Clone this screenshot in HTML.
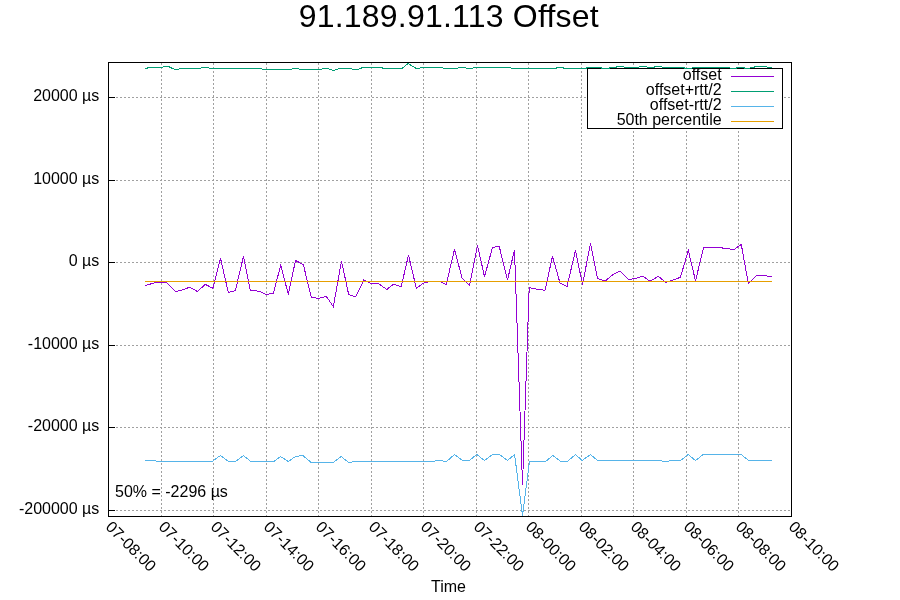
<!DOCTYPE html>
<html><head><meta charset="utf-8"><title>91.189.91.113 Offset</title>
<style>
html,body{margin:0;padding:0;background:#fff;}
body{width:900px;height:600px;overflow:hidden;}
svg{display:block;}
text{font-family:"Liberation Sans",sans-serif;fill:#000;}
.t{font-size:16px;}
.g{stroke:#a0a0a0;stroke-width:1;stroke-dasharray:2 2;fill:none;}
.k{stroke:#000;stroke-width:1;fill:none;}
.d{fill:none;stroke-width:1;stroke-linejoin:miter;stroke-linecap:butt;shape-rendering:crispEdges;}
</style></head><body>
<svg width="900" height="600" viewBox="0 0 900 600">
<rect width="900" height="600" fill="#fff"/>
<text x="298.7" y="26.7" style="font-size:32px;letter-spacing:0.21px">91.189.91.113 Offset</text>

<path class="g" d="M161.5,517V62.5"/>
<path class="g" d="M213.5,517V62.5"/>
<path class="g" d="M266.5,517V62.5"/>
<path class="g" d="M318.5,517V62.5"/>
<path class="g" d="M371.5,517V62.5"/>
<path class="g" d="M423.5,517V62.5"/>
<path class="g" d="M476.5,517V62.5"/>
<path class="g" d="M528.5,517V62.5"/>
<path class="g" d="M581.5,517V62.5"/>
<path class="g" d="M633.5,517V62.5"/>
<path class="g" d="M686.5,517V62.5"/>
<path class="g" d="M738.5,517V62.5"/>
<path class="g" d="M116.0,97.5H791.5"/>
<path class="g" d="M116.0,180.5H791.5"/>
<path class="g" d="M116.0,262.5H791.5"/>
<path class="g" d="M116.0,345.5H791.5"/>
<path class="g" d="M116.0,427.5H791.5"/>
<path class="g" d="M116.0,510.5H791.5"/>
<path class="k" d="M108.5,97.5H115.0"/>
<path class="k" d="M108.5,180.5H115.0"/>
<path class="k" d="M108.5,262.5H115.0"/>
<path class="k" d="M108.5,345.5H115.0"/>
<path class="k" d="M108.5,427.5H115.0"/>
<path class="k" d="M108.5,510.5H115.0"/>
<text class="t" x="99.3" y="101.1" text-anchor="end">20000 µs</text>
<text class="t" x="99.3" y="184.1" text-anchor="end">10000 µs</text>
<text class="t" x="99.3" y="266.1" text-anchor="end">0 µs</text>
<text class="t" x="99.3" y="349.1" text-anchor="end">-10000 µs</text>
<text class="t" x="99.3" y="431.1" text-anchor="end">-20000 µs</text>
<text class="t" x="99.3" y="514.1" text-anchor="end">-200000 µs</text>
<text class="t" transform="translate(104.8,527.8) rotate(45)">07-08:00</text>
<text class="t" transform="translate(157.8,527.8) rotate(45)">07-10:00</text>
<text class="t" transform="translate(209.8,527.8) rotate(45)">07-12:00</text>
<text class="t" transform="translate(262.8,527.8) rotate(45)">07-14:00</text>
<text class="t" transform="translate(314.8,527.8) rotate(45)">07-16:00</text>
<text class="t" transform="translate(367.8,527.8) rotate(45)">07-18:00</text>
<text class="t" transform="translate(419.8,527.8) rotate(45)">07-20:00</text>
<text class="t" transform="translate(472.8,527.8) rotate(45)">07-22:00</text>
<text class="t" transform="translate(524.8,527.8) rotate(45)">08-00:00</text>
<text class="t" transform="translate(577.8,527.8) rotate(45)">08-02:00</text>
<text class="t" transform="translate(629.8,527.8) rotate(45)">08-04:00</text>
<text class="t" transform="translate(682.8,527.8) rotate(45)">08-06:00</text>
<text class="t" transform="translate(734.8,527.8) rotate(45)">08-08:00</text>
<text class="t" transform="translate(787.8,527.8) rotate(45)">08-10:00</text>
<text class="t" x="448.5" y="591.7" text-anchor="middle">Time</text>
<text class="t" x="115" y="497">50% = -2296 µs</text>
<rect x="587.5" y="68.5" width="195" height="60" fill="#fff" stroke="#000" stroke-width="1"/>
<text class="t" x="721.6" y="79.7" text-anchor="end">offset</text>
<path d="M731,76.5H774" stroke="#9400d3" stroke-width="1.1" fill="none"/>
<text class="t" x="721.6" y="94.7" text-anchor="end">offset+rtt/2</text>
<path d="M731,91.5H774" stroke="#009e73" stroke-width="1.1" fill="none"/>
<text class="t" x="721.6" y="109.7" text-anchor="end">offset-rtt/2</text>
<path d="M731,106.5H774" stroke="#56b4e9" stroke-width="1.1" fill="none"/>
<text class="t" x="721.6" y="124.7" text-anchor="end">50th percentile</text>
<path d="M731,121.5H774" stroke="#e69f00" stroke-width="1.1" fill="none"/>
<polyline class="d" stroke="#9400d3" points="145.3,285.5 155.8,282.5 165,282.2 167.5,283.3 175.5,291.5 182.5,290 189.5,287.2 197.5,291.5 205.3,284.3 212.8,288.3 220.5,258.3 228.3,292.5 235.3,290.8 243.5,256.2 250.3,290.3 259.2,291.3 266.2,294.5 273.3,293.3 280.8,265 288.3,294.5 295.5,260.5 303.3,264.5 311.3,297.2 318.7,298.5 326.3,296.3 333.3,306.7 341.5,261.2 348.7,294.7 355.8,296.7 363.8,280 370.8,283.3 378.3,283.3 386.7,289.5 393.7,284.2 401.2,286.7 408.5,255 416.3,288.3 423.7,283 427.5,282.2 428.6,281.5 440.4,281.5 441.5,282.3 446.2,284.5 454.5,249.5 462,277.8 469.5,285.3 477.5,245.3 484.5,276.7 492.5,247.5 499.2,246.2 507.5,280 514.5,249.7 522.5,484.7 529.2,287.5 536.7,289.2 545,290.3 552.5,256.3 560,283 567,286.7 575.5,250.3 582.5,284.7 590.5,243.3 597.5,278.3 605,281.2 613.3,274.2 620,271.2 628.8,279.5 635.8,278.3 642.8,276.2 650,281.2 658.3,276.3 665.8,282.5 673.3,280 680.5,277.2 688.3,250.3 695.5,280.8 703.7,247.2 711.2,247.2 721.5,247.2 722.8,248.4 729,248.5 731.7,249.5 734,249.5 741.3,244.5 748.3,283.3 756.7,275.4 766.2,275.4 767.2,276.5 771.7,276.5"/>
<polyline class="d" stroke="#009e73" points="145.3,68.5 149.8,67.5 161.3,67.5 164.9,66.5 168.4,66.5 174.7,69.5 178.2,69.5 180,68.5 200.4,68.5 202.2,67.5 208.4,67.5 210.2,68.5 260.9,68.5 262.7,69.5 291.1,69.5 292.9,68.5 298,68.5 299.8,69.5 321.1,69.5 322.9,68.5 327.3,68.5 333.6,70.5 339.8,68.5 351.3,68.5 353.1,69.5 357.6,69.5 362.9,67.5 381.6,67.5 383.3,68.5 402,68.5 408.2,63.5 416.2,68.5 418.9,68.5 421.6,67.5 442,67.5 443.8,68.5 456.9,68.5 458.7,67.5 464.9,67.5 466.7,68.5 472,68.5 473.8,67.5 510.2,67.5 512,68.5 555.6,68.5 557.3,67.5 562.7,67.5 564.4,68.5 586.1,68.5 586.7,67.5 600.8,67.5 602,68.5 608.7,68.5 610,67.5 616,67.5 616.7,66.5 623.4,66.5 624.3,67.5 638.7,67.5 639.5,66.5 646.6,66.5 647.5,67.5 654,67.5 654.6,66.5 661.7,66.5 662.5,67.5 684,67.5 684.7,68.5 691.3,68.5 692.7,67.5 729.3,67.5 730.7,68.5 736,68.5 737.3,67.5 744,67.5 745.3,68.5 749.3,68.5 750.7,67.5 754,67.5 754.7,66.5 766.7,66.5 767.3,67.5 772,67.5"/>
<polyline class="d" stroke="#56b4e9" points="145.3,460.5 155.1,460.5 156.9,461.5 212,461.5 220.4,455.5 228.4,461.5 235.5,461.5 243.5,455.5 250.8,461.5 273.7,461.5 280.4,456.5 288.4,461.5 295.4,456.5 302.8,455.5 311.3,462.5 333.2,462.5 341.2,456.5 348.7,462.5 351.3,462.5 352.6,461.5 434,461.5 435.8,460.5 442,460.5 443.8,461.5 446.4,461.5 454.6,454.5 462.6,460.5 469.3,460.5 476.8,454.5 484.4,460.5 492.4,454.5 499.6,454.5 507.4,460.5 514.6,454.5 522.5,515.5 529.5,461.5 545.6,461.5 552.7,455.5 560.7,461.5 567.4,461.5 575.5,454.5 582.2,460.5 590.5,454.5 597.6,460.5 661.2,460.5 662.8,461.5 668.2,461.5 669.8,460.5 680.5,460.5 688.2,454.5 695.5,460.5 703.2,454.5 741.2,454.5 748.7,460.5 772,460.5"/>
<path class="d" stroke="#e69f00" d="M145.3,281.5H771.7"/>
<rect class="k" x="108.5" y="62.5" width="683.0" height="454.0"/>
</svg></body></html>
